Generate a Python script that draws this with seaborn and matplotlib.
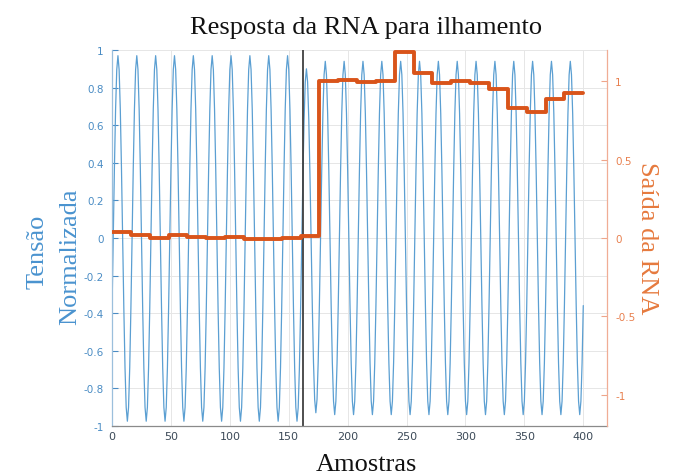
import numpy as np
import pandas as pd
import matplotlib
matplotlib.use("Agg")
import matplotlib.pyplot as plt
import seaborn as sns

# --- normalised voltage: extrema of each half cycle (sample index, value) ---
trough_x = [-3, 13, 29, 45, 61, 77, 93, 109, 125, 141, 157,
            173, 189, 205, 221, 237, 253, 269, 285, 301, 317, 333, 349, 365, 381, 397]
trough_y = [-0.975, -0.975, -0.975, -0.975, -0.975, -0.975, -0.975, -0.975, -0.975, -0.975, -0.975,
            -0.93, -0.94, -0.94, -0.94, -0.94, -0.94, -0.94, -0.94, -0.94, -0.94, -0.94, -0.94, -0.94, -0.94, -0.94]
peak_x = [5, 21, 37, 53, 69, 85, 101, 117, 133, 149,
          165, 181, 197, 213, 229, 245, 261, 277, 293, 309, 325, 341, 357, 373, 389, 405]
peak_y = [0.97, 0.97, 0.97, 0.97, 0.97, 0.97, 0.97, 0.97, 0.97, 0.97,
          0.90, 0.94, 0.94, 0.94, 0.94, 0.94, 0.94, 0.94, 0.94, 0.94, 0.94, 0.94, 0.94, 0.94, 0.94, 0.94]

# --- network output: one value per cycle (16 samples) ---
step_start = [0, 16, 32, 48, 64, 80, 96, 112, 128, 144, 160, 176, 192, 208, 224,
              240, 256, 272, 288, 304, 320, 336, 352, 368, 384]
step_value = [0.036, 0.021, 0.0, 0.017, 0.008, 0.0, 0.008, -0.008, -0.006, 0.002, 0.01,
              1.0, 1.006, 0.994, 1.004, 1.19, 1.055, 0.99, 1.0, 0.99, 0.95, 0.832, 0.805, 0.89, 0.924]
last_sample = 400
event_sample = 162

x_ticks = [0, 50, 100, 150, 200, 250, 300, 350, 400]
left_ticks = [-1, -0.8, -0.6, -0.4, -0.2, 0, 0.2, 0.4, 0.6, 0.8, 1]
left_labels = ["-1", "-0.8", "-0.6", "-0.4", "-0.2", "0", "0.2", "0.4", "0.6", "0.8", "1"]
right_ticks = [-1, -0.5, 0, 0.5, 1]
right_labels = ["-1", "-0.5", "0", "0.5", "1"]

# sampled waveform: half-cosine segments between consecutive extrema
ext = sorted(zip(trough_x + peak_x, trough_y + peak_y))
ex = np.array([e[0] for e in ext], float)
ey = np.array([e[1] for e in ext], float)
n = np.arange(0, last_sample + 1)
seg = np.searchsorted(ex, n, side="right") - 1
x0, x1 = ex[seg], ex[seg + 1]
y0, y1 = ey[seg], ey[seg + 1]
w = (1 - np.cos(np.pi * (n - x0) / (x1 - x0))) / 2
wave = pd.DataFrame({"amostra": n, "tensao": y0 + (y1 - y0) * w})

steps = pd.DataFrame({"amostra": step_start + [last_sample],
                      "saida": step_value + [step_value[-1]]})

sns.set_style("white")
plt.rcParams["font.family"] = ["DejaVu Sans"]

blue = "#5b9fd2"
blue_txt = "#4a8cc4"
orange = "#d9541a"
orange_txt = "#e8804f"
serif = ["Liberation Serif", "DejaVu Serif"]

fig = plt.figure(figsize=(6.75, 4.77), dpi=100)
ax = fig.add_axes([0.166, 0.105, 0.733, 0.788])
ax2 = ax.twinx()

sns.lineplot(data=wave, x="amostra", y="tensao", ax=ax, color=blue, lw=0.9,
             estimator=None, sort=False)
ax.axvline(event_sample, color="#404040", lw=1.3)
sns.lineplot(data=steps, x="amostra", y="saida", ax=ax2, color=orange, lw=2.8,
             drawstyle="steps-post", estimator=None, sort=False)

ax.set_xlim(0, 420)
ax.set_ylim(-1, 1)
ax2.set_ylim(-1.2, 1.2)

ax.set_xticks(x_ticks)
ax.set_xticklabels([str(t) for t in x_ticks])
ax.set_yticks(left_ticks)
ax.set_yticklabels(left_labels)
ax2.set_yticks(right_ticks)
ax2.set_yticklabels(right_labels)

ax.grid(True, color="#e6e6e6", lw=0.7)
ax.set_axisbelow(True)
ax.set_xlabel("")
ax.set_ylabel("")
ax2.set_xlabel("")
ax2.set_ylabel("")

ax.tick_params(axis="x", direction="in", length=4, labelsize=8, colors="#555555",
               labelcolor="#3c4a58", pad=4, top=False)
ax.tick_params(axis="y", direction="in", length=4, labelsize=7.5, colors=blue_txt,
               labelcolor=blue_txt, pad=6)
ax2.tick_params(axis="y", direction="in", length=4, labelsize=7.5, colors="#eea58a",
                labelcolor=orange_txt, pad=6)

for a in (ax, ax2):
    a.spines["top"].set_visible(False)
    a.spines["left"].set_color("#9bbfdc")
    a.spines["bottom"].set_color("#8a8a8a")
    a.spines["right"].set_color("#f0ad95")
    for s in a.spines.values():
        s.set_linewidth(0.9)
ax2.spines["left"].set_visible(False)
ax2.spines["bottom"].set_visible(False)
ax.spines["right"].set_visible(False)

fig.text(0.543, 0.942, "Resposta da RNA para ilhamento", ha="center", va="center",
         fontsize=19, family=serif, color="#111111")
fig.text(0.543, 0.025, "Amostras", ha="center", va="center",
         fontsize=19, family=serif, color="#111111")
fig.text(0.055, 0.472, "Tensão", ha="center", va="center", rotation=90,
         fontsize=19, family=serif, color="#4a93cf")
fig.text(0.104, 0.462, "Normalizada", ha="center", va="center", rotation=90,
         fontsize=19, family=serif, color="#4a93cf")
fig.text(0.958, 0.5, "Saída da RNA", ha="center", va="center", rotation=-90,
         fontsize=19, family=serif, color="#e67a3e")

fig.savefig("out.png", dpi=100, facecolor="white")
